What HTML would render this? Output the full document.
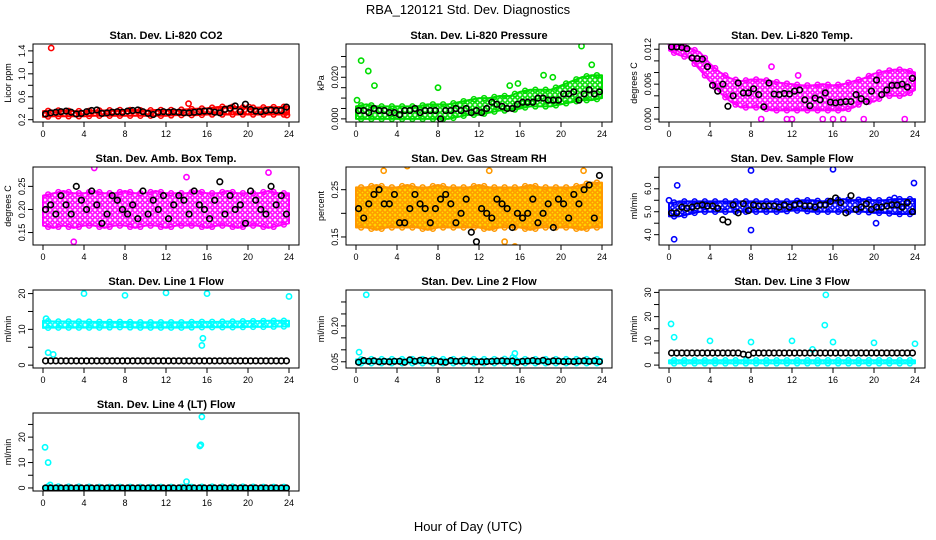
<!DOCTYPE html>
<html><head><meta charset="utf-8"><style>
body{margin:0;background:#fff;}
svg{display:block;font-family:"Liberation Sans",Arial,sans-serif;}
</style></head><body>
<svg id="chart" width="936" height="540" viewBox="0 0 936 540">
<defs id="defs"></defs>
<text x="468" y="14" font-size="13" text-anchor="middle">RBA_120121  Std. Dev. Diagnostics</text>
<text x="468" y="531" font-size="13" text-anchor="middle">Hour of Day (UTC)</text>
</svg>
<script>
// x-axis ticks shared by all panels
const xTicks=[0,4,8,12,16,20,24];
// Panel titles and y-axis titles
const titles=["Stan. Dev. Li-820 CO2","Stan. Dev. Li-820 Pressure","Stan. Dev. Li-820 Temp.","Stan. Dev. Amb. Box Temp.","Stan. Dev. Gas Stream RH","Stan. Dev. Sample Flow","Stan. Dev. Line 1 Flow","Stan. Dev. Line 2 Flow","Stan. Dev. Line 3 Flow","Stan. Dev. Line 4 (LT) Flow"];
const yTitles=["Licor ppm","kPa","degrees C","degrees C","percent","ml/min","ml/min","ml/min","ml/min","ml/min"];
// y tick values and labels per panel
const yTickVals=[[0.2,0.4,0.6,0.8,1.0,1.2,1.4],[0,0.005,0.01,0.015,0.02,0.025,0.03],[0,0.002,0.004,0.006,0.008,0.01,0.012],[0.15,0.2,0.25],[0.15,0.2,0.25],[4,4.5,5,5.5,6,6.5],[0,5,10,15,20],[0.05,0.1,0.15,0.2,0.25,0.3],[0,5,10,15,20,25,30],[0,5,10,15,20,25]];
const yTickLabels=[["0.2","","0.6","","1.0","","1.4"],["0.000","","","","0.020","",""],["0.000","","","0.006","","","0.012"],["0.15","0.20","0.25"],["0.15","","0.25"],["4.0","","5.0","","6.0",""],["0","","10","","20"],["0.05","","","0.20","",""],["0","","10","","20","","30"],["0","","10","","20",""]];
// y domain per panel [min,max]
const yDomains=[[0.16,1.52],[-0.0015,0.036],[-0.0005,0.0129],[0.123,0.292],[0.133,0.298],[3.55,6.95],[-0.8,21],[0.024,0.35],[-1.2,31],[-1.2,29.5]];
// colored-series envelope (hourly, t=0..24): low and high
const bandLo=[
[0.25,0.26,0.26,0.26,0.26,0.27,0.27,0.27,0.27,0.27,0.27,0.27,0.27,0.28,0.28,0.28,0.29,0.29,0.29,0.29,0.29,0.29,0.29,0.29,0.29],
[0,0,0,0,0,0,0,0,0,0,0.001,0.002,0.002,0.003,0.004,0.004,0.005,0.006,0.006,0.006,0.007,0.008,0.009,0.009,0.01],
[0.0118,0.011,0.0105,0.0085,0.0065,0.0045,0.003,0.002,0.002,0.002,0.0015,0.0015,0.0015,0.0015,0.0015,0.0015,0.0015,0.0015,0.002,0.003,0.003,0.004,0.004,0.004,0.005],
[0.165,0.16,0.165,0.16,0.165,0.165,0.16,0.165,0.165,0.16,0.165,0.165,0.16,0.165,0.165,0.165,0.16,0.165,0.165,0.16,0.165,0.165,0.16,0.165,0.17],
[0.17,0.17,0.165,0.17,0.17,0.17,0.17,0.165,0.17,0.17,0.17,0.17,0.17,0.165,0.17,0.17,0.17,0.165,0.17,0.17,0.17,0.17,0.165,0.17,0.17],
[4.8,4.8,4.9,5.0,5.0,5.0,5.0,5.0,5.0,5.0,5.0,5.0,5.05,5.05,5.0,5.0,5.0,5.0,5.0,5.0,4.95,4.95,4.9,4.9,4.9],
[10.4,10.5,10.5,10.5,10.5,10.5,10.5,10.6,10.6,10.5,10.5,10.5,10.5,10.5,10.5,10.6,10.6,10.6,10.6,10.6,10.7,10.7,10.7,10.8,10.8],
[0.043,0.044,0.044,0.044,0.044,0.044,0.044,0.044,0.044,0.044,0.044,0.044,0.044,0.044,0.044,0.044,0.044,0.044,0.044,0.044,0.044,0.044,0.044,0.044,0.044],
[0.7,0.7,0.7,0.7,0.7,0.7,0.7,0.7,0.7,0.7,0.7,0.7,0.7,0.7,0.7,0.7,0.7,0.7,0.7,0.7,0.7,0.7,0.7,0.7,0.7],
[-0.2,-0.2,-0.2,-0.2,-0.2,-0.2,-0.2,-0.2,-0.2,-0.2,-0.2,-0.2,-0.2,-0.2,-0.2,-0.2,-0.2,-0.2,-0.2,-0.2,-0.2,-0.2,-0.2,-0.2,-0.2]];
const bandHi=[
[0.35,0.36,0.36,0.35,0.35,0.36,0.36,0.37,0.37,0.37,0.36,0.37,0.37,0.37,0.38,0.39,0.40,0.42,0.43,0.42,0.41,0.41,0.42,0.42,0.43],
[0.006,0.007,0.006,0.006,0.006,0.006,0.006,0.007,0.007,0.007,0.008,0.009,0.010,0.010,0.011,0.011,0.013,0.014,0.014,0.014,0.016,0.018,0.020,0.021,0.021],
[0.0126,0.0126,0.0122,0.0115,0.0095,0.008,0.007,0.0065,0.0068,0.0068,0.0065,0.0062,0.006,0.0058,0.0058,0.006,0.0058,0.006,0.0065,0.007,0.0078,0.0082,0.0085,0.0085,0.008],
[0.23,0.235,0.24,0.235,0.235,0.24,0.235,0.235,0.24,0.235,0.235,0.24,0.235,0.235,0.235,0.24,0.235,0.235,0.24,0.235,0.235,0.235,0.24,0.235,0.235],
[0.255,0.255,0.26,0.255,0.255,0.26,0.255,0.255,0.26,0.255,0.255,0.255,0.26,0.255,0.255,0.255,0.255,0.26,0.255,0.255,0.255,0.255,0.26,0.265,0.265],
[5.35,5.45,5.45,5.45,5.45,5.45,5.45,5.45,5.45,5.45,5.45,5.45,5.45,5.5,5.5,5.45,5.5,5.55,5.5,5.55,5.5,5.5,5.55,5.55,5.55],
[12.4,12.2,12.2,12.2,12.2,12.1,12.1,12.1,12.1,12.0,12.0,12.0,12.0,12.0,12.0,12.1,12.1,12.1,12.2,12.2,12.3,12.3,12.4,12.4,12.4],
[0.060,0.061,0.061,0.061,0.061,0.061,0.061,0.061,0.061,0.061,0.061,0.061,0.061,0.061,0.061,0.063,0.061,0.061,0.061,0.061,0.061,0.061,0.061,0.061,0.061],
[2.0,2.0,2.0,2.0,2.0,2.0,2.0,2.0,2.0,2.0,2.0,2.0,2.0,2.0,2.0,2.0,2.0,2.0,2.0,2.0,2.0,2.0,2.0,2.0,2.0],
[0.6,0.6,0.5,0.5,0.5,0.4,0.4,0.4,0.4,0.4,0.4,0.4,0.4,0.4,0.4,0.4,0.5,0.5,0.5,0.5,0.5,0.4,0.4,0.4,0.4]];
// black series: half-hourly values (t = 0.25, 0.75, ...)
const blackVals=[
[0.30,0.32,0.33,0.34,0.35,0.33,0.30,0.31,0.34,0.36,0.37,0.31,0.32,0.33,0.34,0.33,0.35,0.36,0.37,0.34,0.31,0.29,0.33,0.34,0.33,0.34,0.33,0.32,0.32,0.33,0.34,0.35,0.35,0.33,0.32,0.38,0.40,0.44,0.34,0.47,0.38,0.35,0.34,0.36,0.37,0.36,0.36,0.42],
[0.004,0.004,0.003,0.005,0.004,0.004,0.003,0.003,0.002,0.004,0.004,0.005,0.003,0.004,0.004,0.004,0.000,0.004,0.004,0.005,0.004,0.005,0.003,0.004,0.003,0.005,0.008,0.007,0.006,0.005,0.005,0.007,0.008,0.008,0.008,0.010,0.010,0.009,0.009,0.009,0.012,0.012,0.013,0.009,0.012,0.014,0.012,0.013],
[0.0124,0.0124,0.0123,0.0121,0.0105,0.0104,0.0103,0.0090,0.0058,0.0048,0.0060,0.0022,0.0040,0.0062,0.0045,0.0045,0.0052,0.0042,0.0021,0.0062,0.0043,0.0042,0.0044,0.0043,0.0048,0.0050,0.0033,0.0023,0.0036,0.0033,0.0045,0.0029,0.0028,0.0029,0.0030,0.0030,0.0042,0.0035,0.0030,0.0048,0.0067,0.0042,0.0050,0.0058,0.0058,0.0060,0.0055,0.0070],
[0.20,0.21,0.19,0.23,0.21,0.19,0.25,0.22,0.20,0.24,0.21,0.17,0.19,0.23,0.22,0.20,0.19,0.21,0.18,0.24,0.19,0.22,0.20,0.23,0.18,0.21,0.23,0.22,0.19,0.24,0.21,0.20,0.18,0.22,0.26,0.19,0.23,0.20,0.21,0.17,0.24,0.22,0.20,0.19,0.25,0.21,0.23,0.19],
[0.21,0.19,0.22,0.24,0.25,0.22,0.22,0.24,0.18,0.18,0.21,0.24,0.22,0.21,0.18,0.21,0.23,0.24,0.22,0.18,0.20,0.23,0.16,0.14,0.21,0.20,0.19,0.23,0.22,0.21,0.17,0.20,0.19,0.20,0.23,0.18,0.20,0.22,0.17,0.23,0.22,0.19,0.24,0.22,0.25,0.26,0.19,0.28],
[4.95,4.95,5.2,5.15,5.2,5.25,5.3,5.25,5.25,5.15,4.65,4.55,5.3,4.95,5.35,5.05,5.3,5.25,5.25,5.25,5.25,5.2,5.3,5.2,5.3,5.35,5.25,5.25,5.2,5.3,5.3,5.45,5.6,5.4,4.95,5.7,5.1,5.2,5.35,5.1,5.2,5.2,5.25,5.3,5.3,5.2,5.4,5.0],
[1.2,1.2,1.2,1.2,1.2,1.2,1.2,1.2,1.2,1.2,1.2,1.2,1.2,1.2,1.2,1.2,1.2,1.2,1.2,1.2,1.2,1.2,1.2,1.2,1.2,1.2,1.2,1.2,1.2,1.2,1.2,1.2,1.2,1.2,1.2,1.2,1.2,1.2,1.2,1.2,1.2,1.2,1.2,1.2,1.2,1.2,1.2,1.2],
[0.048,0.055,0.052,0.054,0.050,0.052,0.050,0.052,0.052,0.048,0.058,0.052,0.056,0.055,0.053,0.054,0.050,0.048,0.055,0.052,0.053,0.054,0.052,0.050,0.050,0.051,0.052,0.053,0.054,0.052,0.053,0.048,0.052,0.053,0.055,0.052,0.056,0.050,0.054,0.053,0.051,0.052,0.051,0.053,0.054,0.052,0.054,0.051],
[5,5,5,5,5,5,5,5,5,5,5,5,5,5,4.5,4.2,5,5,5,5,5,5,5,5,5,5,5,5,5,5,5,5,5,5,5,5,5,5,5,5,5,5,5,5,5,5,5,5],
[0,0,0,0,0,0,0,0,0,0,0,0,0,0,0,0,0,0,0,0,0,0,0,0,0,0,0,0,0,0,0,0,0,0,0,0,0,0,0,0,0,0,0,0,0,0,0,0]];
// colored outliers [hour, value]
const outliers=[
[[0.8,1.45],[14.2,0.48],[20.1,0.42],[23.8,0.28]],
[[0.5,0.028],[1.2,0.023],[1.8,0.016],[0.1,0.009],[8,0.015],[15,0.016],[18.3,0.021],[19.2,0.020],[22,0.035],[23,0.026],[15.8,0.017]],
[[0.2,0.0128],[10,0.009],[12.6,0.0075],[9,0.0],[11.5,0.0],[15,0.0],[16,0.0],[17,0.0],[19,0.0],[23,0.0],[12,0.0]],
[[5,0.29],[3,0.13],[22,0.28],[14,0.27]],
[[2.7,0.29],[5,0.30],[13,0.29],[22.2,0.29],[15.5,0.13],[14.5,0.14]],
[[0.5,3.8],[0.8,6.15],[8,4.2],[8,6.8],[16,6.85],[23.9,6.25],[0,5.5],[22,5.6],[20.2,4.5]],
[[4,20],[8,19.5],[12,20.2],[16,20],[24,19.2],[0.5,3.5],[1,3],[15.5,5.5],[15.6,7.5],[0.3,13]],
[[1,0.33],[0.3,0.09],[15.5,0.085],[15.3,0.068]],
[[0.2,17],[0.5,11.5],[4,10],[8,9.5],[12,10],[14,6.5],[15.3,29],[15.2,16.5],[16,9.5],[20,9.2],[24,8.8]],
[[0.2,16],[0.5,10],[14,2.5],[15.3,16.5],[15.4,17],[15.5,28],[0.7,1.2]]];
const colors=["#ff0000","#00dd00","#ff00ff","#ff00ff","#ff9900","#0000ff","#00ffff","#00ffff","#00ffff","#00ffff"];
const NS="http://www.w3.org/2000/svg";
const svg=document.getElementById('chart');
const defs=document.getElementById('defs');
function mk(tag,attrs,parent){const e=document.createElementNS(NS,tag);for(const k in attrs)e.setAttribute(k,attrs[k]);parent.appendChild(e);return e;}
const colX=[33,346,659],rowY=[44,167,290,413],W=266,H=78;
for(let p=0;p<10;p++){
  const col=colors[p];
  const pat=mk('pattern',{id:'pt'+p,width:5,height:5,patternUnits:'userSpaceOnUse'},defs);
  mk('rect',{width:5,height:5,fill:p===4?'#ffdd00':'#fff'},pat);
  mk('circle',{cx:2.5,cy:2.5,r:1.7,fill:'none',stroke:col,'stroke-width':1.6},pat);
}
for(let p=0;p<10;p++){
  const x0=colX[p%3],y0=rowY[Math.floor(p/3)];
  const g=mk('g',{},svg);
  
  
  const [ymin,ymax]=yDomains[p];
  const X=t=>x0+10+t*(246/24);
  const Y=v=>y0+H-(v-ymin)/(ymax-ymin)*H;
  const clip=mk('clipPath',{id:'c'+p},g);mk('rect',{x:x0,y:y0,width:W,height:H},clip);
  const plot=mk('g',{'clip-path':'url(#c'+p+')'},g);
  
  
  const col=colors[p];
  let pts=[];for(let i=0;i<=24;i++)pts.push(X(i)+','+Y(bandHi[p][i]));
  for(let i=24;i>=0;i--)pts.push(X(i)+','+Y(bandLo[p][i]));
  const band=mk('polygon',{points:pts.join(' '),fill:'url(#pt'+p+')',stroke:col,'stroke-width':2,'stroke-linejoin':'round'},plot);
  
  
  for(let i=0;i<24;i++){
    for(const arr of [bandHi[p],bandLo[p]]){
      const c=mk('circle',{cx:X(i+0.5),cy:Y((arr[i]+arr[i+1])/2),r:2.5,fill:'none',stroke:col,'stroke-width':1.5},plot);
      
      
    }
  }
  outliers[p].forEach(o=>{
    const c=mk('circle',{cx:X(o[0]),cy:Y(o[1]),r:2.6,fill:'none',stroke:col,'stroke-width':1.6},plot);
    
    
  });
  blackVals[p].forEach((v,i)=>{
    const c=mk('circle',{cx:X(0.25+i*0.5),cy:Y(v),r:2.8,fill:'none',stroke:'#000','stroke-width':1.6},plot);
    
    
  });
  const box=mk('rect',{x:x0,y:y0,width:W,height:H,fill:'none',stroke:'#000','stroke-width':1},g);
  
  
  const t=mk('text',{x:x0+W/2,y:y0-5,'font-size':11,'font-weight':'bold','text-anchor':'middle'},g);
  t.textContent=titles[p];
  
  
  xTicks.forEach(v=>{
    mk('line',{x1:X(v),x2:X(v),y1:y0+H,y2:y0+H+5,stroke:'#000'},g);
    const l=mk('text',{x:X(v),y:y0+H+15,'font-size':9,'text-anchor':'middle'},g);
    l.textContent=v;
    
    
  });
  yTickVals[p].forEach((v,i)=>{
    const yy=Y(v);if(yy<y0-1||yy>y0+H+1)return;
    mk('line',{x1:x0-5,x2:x0,y1:yy,y2:yy,stroke:'#000'},g);
    const lab=yTickLabels[p][i];if(!lab)return;
    const l=mk('text',{x:x0-8,y:yy,'font-size':9,'text-anchor':'middle',transform:'rotate(-90 '+(x0-8)+' '+yy+')'},g);
    l.textContent=lab;
    
    
  });
  const yt=mk('text',{x:x0-22,y:y0+H/2,'font-size':9,'text-anchor':'middle',transform:'rotate(-90 '+(x0-22)+' '+(y0+H/2)+')'},g);
  yt.textContent=yTitles[p];
  
  
}
</script>
</body></html>
